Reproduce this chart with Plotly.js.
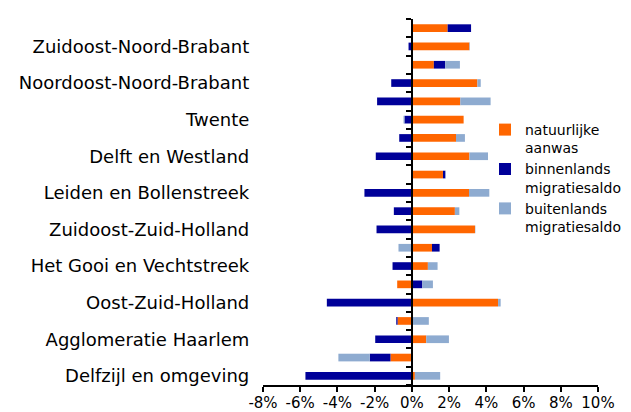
<!DOCTYPE html>
<html>
<head>
<meta charset="utf-8">
<script src="https://cdn.plot.ly/plotly-3.0.1.min.js"></script>
<style>html,body{margin:0;padding:0;background:#fff;}#chart{width:631px;height:412px;}</style>
</head>
<body>
<div id="chart"></div>
<script>
// Categories from bottom to top
var regions = [
  "Delfzijl en omgeving", "Oost-Groningen",
  "Agglomeratie Haarlem", "Zuid-Limburg",
  "Oost-Zuid-Holland", "Groot-Amsterdam",
  "Het Gooi en Vechtstreek", "Zaanstreek",
  "Zuidoost-Zuid-Holland", "Groot-Rijnmond",
  "Leiden en Bollenstreek", "Agglomeratie 's-Gravenhage",
  "Delft en Westland", "Utrecht",
  "Twente", "Achterhoek",
  "Noordoost-Noord-Brabant", "Midden-Noord-Brabant",
  "Zuidoost-Noord-Brabant", "Flevoland"
];
// Only every other region carries a visible label in the reference
var shownLabels = regions.map(function (r, i) { return i % 2 === 0 ? r : ""; });

var natuurlijkeAanwas = [0.16, -1.15, 0.77, -0.77, 4.63, -0.79, 0.86, 1.08, 3.39, 2.31,
                         3.07, 1.67, 3.09, 2.37, 2.78, 2.60, 3.52, 1.18, 3.09, 1.92];
var binnenlandsSaldo  = [-5.72, -1.11, -1.97, -0.07, -4.57, 0.56, -1.04, 0.41, -1.90, -0.97,
                         -2.55, 0.13, -1.94, -0.68, -0.40, -1.87, -1.11, 0.61, -0.18, 1.26];
var buitenlandsSaldo  = [1.36, -1.69, 1.22, 0.91, 0.14, 0.57, 0.52, -0.72, 0.02, 0.24,
                         1.09, 0.02, 1.00, 0.48, -0.05, 1.63, 0.18, 0.79, 0.03, 0.0];

var seriesNames = ["natuurlijke<br>aanwas", "binnenlands<br>migratiesaldo", "buitenlands<br>migratiesaldo"];
var seriesColors = ["#FF6600", "#000099", "#8EABD0"];

var xTickVals = [-8, -6, -4, -2, 0, 2, 4, 6, 8, 10];
var xTickText = ["-8%", "-6%", "-4%", "-2%", "0%", "2%", "4%", "6%", "8%", "10%"];
var xRange = [-8, 10];

var seriesValues = [natuurlijkeAanwas, binnenlandsSaldo, buitenlandsSaldo];
var traces = seriesValues.map(function (vals, k) {
  return {
    type: "bar",
    orientation: "h",
    x: vals,
    y: regions,
    name: seriesNames[k],
    marker: { color: seriesColors[k], line: { width: 0 } },
    hoverinfo: "x+y+name"
  };
});

var font = "DejaVu Sans, Verdana, sans-serif";
var layout = {
  width: 631,
  height: 412,
  margin: { l: 263, r: 33, t: 19, b: 27, pad: 0, autoexpand: false },
  paper_bgcolor: "#fff",
  plot_bgcolor: "#fff",
  barmode: "relative",
  bargap: 0.58,
  font: { family: font, color: "#000" },
  xaxis: {
    range: xRange,
    tickmode: "array",
    tickvals: xTickVals,
    ticktext: xTickText,
    ticks: "outside",
    ticklen: 5,
    tickwidth: 2,
    tickcolor: "#000",
    showline: true,
    linecolor: "#000",
    linewidth: 2,
    showgrid: false,
    zeroline: false,
    ticklabelstandoff: -2,
    tickfont: { family: font, size: 15, color: "#000" },
    automargin: false,
    fixedrange: true
  },
  yaxis: {
    type: "category",
    categoryorder: "array",
    categoryarray: regions,
    range: [-0.5, regions.length - 0.5],
    anchor: "free",
    position: (0 - xRange[0]) / (xRange[1] - xRange[0]),
    tickmode: "array",
    tickvals: regions,
    ticktext: shownLabels,
    tickson: "boundaries",
    ticks: "outside",
    ticklen: 5,
    tickwidth: 2,
    tickcolor: "#000",
    showline: true,
    linecolor: "#000",
    linewidth: 2,
    showgrid: false,
    zeroline: false,
    ticklabelstandoff: 158,
    tickfont: { family: font, size: 18, color: "#000" },
    automargin: false,
    fixedrange: true
  },
  legend: {
    xref: "container",
    yref: "container",
    x: 485 / 631,
    y: 1 - 114 / 412,
    xanchor: "left",
    yanchor: "top",
    valign: "top",
    traceorder: "normal",
    bgcolor: "rgba(0,0,0,0)",
    font: { family: font, size: 14, color: "#000" }
  },
  showlegend: true
};

Plotly.newPlot("chart", traces, layout, { displayModeBar: false, staticPlot: true });
</script>
</body>
</html>
